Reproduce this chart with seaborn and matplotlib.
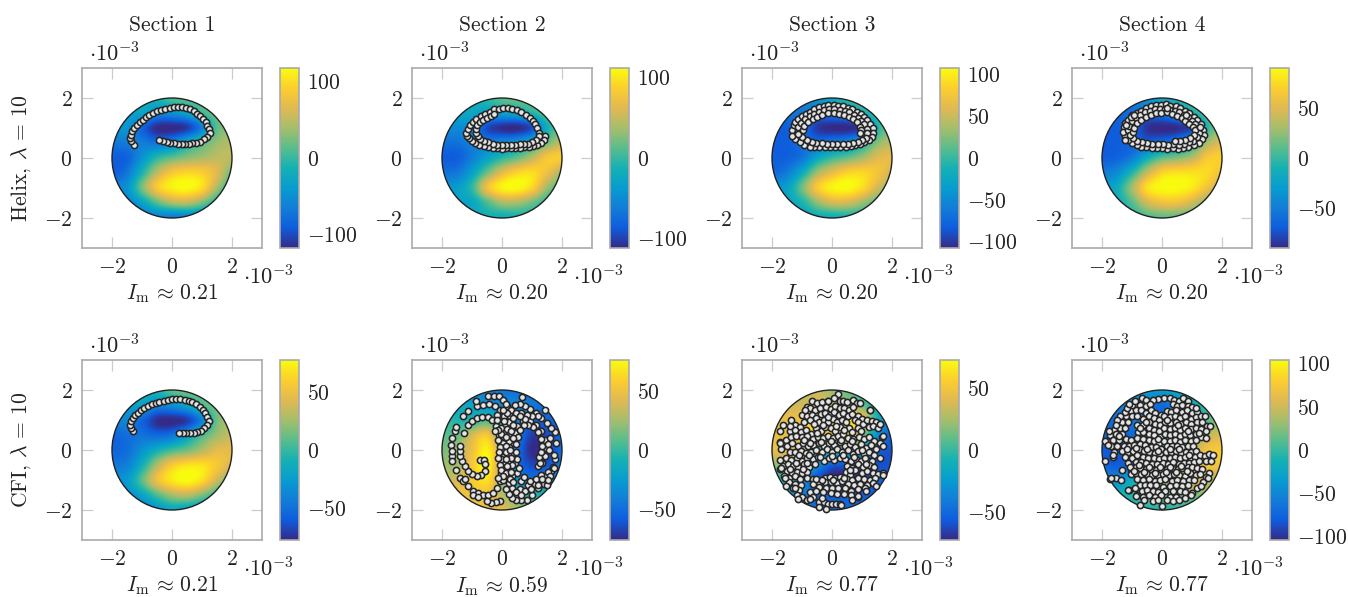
import numpy as np
import pandas as pd
import seaborn as sns
from matplotlib import pyplot as plt
from matplotlib.patches import Circle

sections = ["Section 1", "Section 2", "Section 3", "Section 4"]
rows = [r"Helix, $\lambda\,=\,10$", r"CFI, $\lambda\,=\,10$"]
im_labels = ["0.21", "0.20", "0.20", "0.20", "0.21", "0.59", "0.77", "0.77"]
cbar_limits = [118, 112, 108, 90, 77, 76, 73, 104]
cbar_ticks = [
    [-100, 0, 100],
    [-100, 0, 100],
    [-100, -50, 0, 50, 100],
    [-50, 0, 50],
    [-50, 0, 50],
    [-50, 0, 50],
    [-50, 0, 50],
    [-100, -50, 0, 50, 100],
]
parula = ["#352a87", "#0f5cdd", "#127dd8", "#079ccf", "#15b1b4",
          "#59bd8c", "#a5be6b", "#e1b952", "#fcce2e", "#f9fb0e"]

# field values read at x, y = -2, -1.5 ... 2 (top row is y = 2)
field_1 = [
    [-30, -30, -20, -10, 12, 15, 10, 0, -10],
    [-40, -35, -30, -50, -45, -25, 5, 20, 15],
    [-50, -45, -85, -116, -118, -108, -60, 15, 30],
    [-70, -65, -65, -75, -60, -20, 10, 35, 45],
    [-90, -85, -45, -5, 15, 30, 40, 50, 50],
    [-90, -70, -10, 50, 85, 95, 90, 65, 20],
    [-60, -45, 25, 88, 112, 118, 100, 40, -10],
    [-60, -60, -30, 15, 45, 50, 25, -15, -40],
    [-70, -70, -70, -65, -70, -65, -60, -60, -60],
]
field_2 = [
    [-20, -20, -15, 0, 15, 20, 15, 5, -5],
    [-30, -25, -25, -35, -25, -20, -5, 15, 20],
    [-50, -50, -55, -95, -110, -112, -90, -15, 20],
    [-70, -70, -60, -60, -50, -40, -15, 20, 50],
    [-85, -85, -60, -30, -5, 15, 45, 80, 85],
    [-70, -65, -30, 20, 65, 90, 95, 72, 40],
    [-40, -35, 0, 75, 108, 112, 90, 35, 0],
    [-30, -30, -25, 10, 40, 40, 20, -5, -15],
    [-20, -20, -20, -15, -20, -15, -10, -10, -10],
]
field_3 = [
    [-60, -60, -50, -40, -20, 0, 10, 0, -10],
    [-68, -68, -65, -65, -55, -40, -15, 5, 15],
    [-80, -80, -70, -100, -108, -108, -92, -10, 20],
    [-82, -82, -70, -70, -60, -50, -20, 25, 45],
    [-82, -80, -65, -25, 0, 15, 35, 60, 65],
    [-75, -60, -20, 35, 65, 85, 88, 75, 55],
    [-40, -30, 20, 80, 104, 108, 92, 55, 25],
    [-30, -25, -10, 30, 55, 55, 35, 10, -5],
    [-30, -30, -30, -20, -20, -15, -15, -15, -15],
]
field_4 = [
    [-50, -50, -45, -35, -15, -5, 0, -5, -5],
    [-62, -62, -60, -58, -50, -30, -10, 10, 15],
    [-68, -68, -62, -86, -90, -88, -75, -5, 25],
    [-68, -68, -65, -65, -58, -45, -15, 30, 50],
    [-68, -65, -50, -15, 10, 20, 35, 65, 70],
    [-50, -40, -5, 40, 72, 78, 78, 75, 60],
    [-30, -15, 30, 78, 90, 90, 82, 60, 35],
    [-20, -15, 10, 45, 60, 60, 45, 20, 5],
    [-25, -20, -10, 5, 10, 10, 5, -5, -5],
]
field_5 = [
    [-10, -10, -10, -5, 10, 15, 10, 5, 0],
    [-25, -25, -22, -38, -32, -18, 5, 15, 15],
    [-40, -38, -55, -75, -77, -70, -38, 15, 25],
    [-55, -50, -48, -52, -46, -22, 5, 25, 35],
    [-55, -50, -30, -10, 5, 15, 30, 45, 45],
    [-45, -40, -10, 30, 58, 68, 68, 55, 40],
    [-30, -25, 10, 50, 70, 77, 65, 35, 10],
    [-35, -35, -20, 5, 25, 30, 15, -5, -15],
    [-45, -45, -45, -30, -20, -25, -30, -30, -30],
]
field_6 = [
    [-35, -35, -35, -40, -45, -50, -50, -45, -40],
    [-20, -15, -20, -30, -35, -35, -45, -50, -50],
    [0, -5, -5, 5, -20, -40, -55, -55, -50],
    [10, 10, 40, 55, 0, -40, -70, -65, -50],
    [15, 25, 50, 72, 20, -45, -76, -70, -50],
    [25, 25, 55, 76, 15, -45, -65, -60, -40],
    [35, 40, 55, 65, 20, -25, -45, -30, -25],
    [50, 50, 50, 50, 30, 10, -5, -5, -10],
    [50, 50, 50, 50, 45, 25, 10, 5, 0],
]
field_7 = [
    [30, 30, 30, 35, 20, 10, 0, -10, -10],
    [40, 35, 35, 40, 35, 25, 10, -15, -30],
    [45, 45, 50, 68, 55, 65, 50, -10, -45],
    [45, 45, 50, 60, 50, 55, 20, -30, -55],
    [45, 45, 30, 10, 5, 0, -10, -50, -60],
    [20, 20, 0, -30, -55, -55, -60, -60, -60],
    [-5, -5, -25, -60, -73, -73, -68, -55, -55],
    [-25, -25, -40, -50, -55, -55, -55, -55, -55],
    [-40, -40, -45, -50, -50, -50, -50, -50, -50],
]
field_8 = [
    [-40, -40, -40, -35, -30, -25, -15, -10, -5],
    [-60, -55, -50, -55, -70, -40, -20, 0, 5],
    [-70, -70, -60, -70, -65, -60, -30, 10, 20],
    [-70, -75, -70, -55, -50, -20, 0, 40, 55],
    [-80, -80, -70, -40, -10, 10, 40, 70, 75],
    [-75, -80, -65, -20, 10, 40, 75, 75, 70],
    [-45, -45, -20, 5, 30, 50, 70, 50, 30],
    [-20, -15, -5, 10, 15, 15, 20, 25, 20],
    [-15, -15, -10, -5, -5, 0, 5, 10, 10],
]
fields = [field_1, field_2, field_3, field_4, field_5, field_6, field_7, field_8]

# particle positions, in hundredths of the axis unit
points_1 = [
    (-128, 44), (-136, 56), (-139, 67), (-138, 78), (-133, 90), (-126, 100), (-117, 110), (-108, 119),
    (-98, 128), (-88, 136), (-76, 143), (-64, 150), (-50, 156), (-36, 161), (-22, 165), (-8, 168),
    (6, 170), (20, 170), (34, 169), (47, 167), (60, 162), (72, 156), (84, 148), (94, 140), (103, 130),
    (113, 119), (118, 108), (122, 96), (125, 84), (116, 70), (105, 62), (93, 55), (80, 51), (68, 49),
    (56, 48), (44, 47), (32, 47), (20, 48), (8, 49), (-6, 51), (-18, 53), (-30, 56), (-43, 59),
]
points_2 = [
    (142, 74), (140, 60), (130, 50), (118, 44), (105, 40), (90, 38), (75, 36), (60, 35), (45, 34), (30, 33),
    (15, 32), (0, 31), (-15, 32), (-30, 34), (-45, 36), (-60, 39), (-75, 44), (-90, 50), (-100, 58), (-110, 66),
    (-118, 75), (-120, 85), (-115, 98), (-105, 110), (-95, 120), (-85, 130), (-70, 140), (-55, 148), (-40, 155),
    (-25, 162), (-10, 165), (5, 167), (20, 166), (35, 165), (50, 160), (65, 155), (80, 145), (92, 135), (102, 125),
    (110, 112), (118, 100), (122, 85), (122, 72), (112, 60), (100, 52), (88, 48), (75, 46), (60, 46), (45, 45),
    (30, 43), (15, 43), (0, 43), (-15, 44), (-30, 47), (-45, 52), (-60, 57), (-72, 65), (-80, 75), (-88, 85),
    (-88, 98), (-82, 110), (-72, 120), (-62, 128), (-50, 135), (-38, 140), (-28, 147),
]
points_3 = [
    (-132, 95), (-128, 110), (-122, 120), (-112, 130), (-100, 140), (-88, 148), (-75, 155), (-60, 164), (-45, 170),
    (-28, 175), (-12, 178), (5, 178), (20, 175), (36, 172), (52, 168), (68, 162), (82, 155), (95, 147), (108, 138),
    (118, 128), (128, 115), (135, 100), (137, 85), (132, 70), (122, 60), (108, 52), (92, 46), (78, 42), (62, 40),
    (45, 37), (28, 37), (10, 36), (-8, 38), (-25, 38), (-42, 37), (-60, 37), (-75, 38), (-92, 45), (-108, 55),
    (-122, 65), (-132, 75), (-115, 90), (-112, 105), (-103, 118), (-90, 130), (-75, 140), (-60, 148), (-45, 155),
    (-28, 160), (-10, 162), (8, 163), (25, 160), (42, 157), (58, 152), (72, 145), (86, 135), (98, 125), (108, 112),
    (116, 98), (118, 82), (112, 68), (100, 60), (85, 55), (70, 50), (52, 48), (35, 47), (18, 46), (0, 47), (-18, 48),
    (-35, 50), (-52, 50), (-68, 54), (-85, 60), (-100, 70), (-112, 80), (-98, 92), (-92, 108), (-80, 120), (-65, 130),
    (-50, 138), (-32, 145), (-15, 150), (5, 150), (22, 147), (40, 145), (55, 138), (70, 130), (82, 120), (92, 105),
    (98, 92), (92, 85),
]
points_4 = [
    (-128, 102), (-122, 118), (-112, 128), (-100, 142), (-85, 150), (-70, 158), (-55, 168), (-38, 172), (-20, 178),
    (-5, 176), (12, 180), (28, 174), (45, 172), (60, 168), (75, 158), (90, 150), (105, 138), (118, 128), (130, 112),
    (138, 95), (140, 78), (134, 62), (122, 50), (106, 42), (88, 38), (70, 33), (52, 30), (35, 32), (18, 30), (0, 33),
    (-18, 35), (-35, 33), (-52, 36), (-70, 38), (-85, 44), (-100, 50), (-115, 60), (-124, 72), (-130, 88), (-115, 92),
    (-110, 108), (-100, 122), (-86, 134), (-72, 142), (-56, 152), (-40, 158), (-24, 162), (-8, 165), (10, 165), (26, 160),
    (42, 158), (58, 152), (74, 144), (88, 136), (100, 124), (110, 112), (120, 98), (124, 82), (118, 70), (104, 58),
    (90, 52), (72, 47), (55, 44), (38, 46), (20, 44), (2, 47), (-15, 48), (-32, 47), (-50, 50), (-66, 52), (-82, 58),
    (-96, 66), (-108, 76), (-98, 86), (-92, 100), (-84, 116), (-70, 128), (-54, 137), (-38, 145), (-20, 150), (-2, 150),
    (18, 152), (34, 148), (50, 140), (66, 132), (78, 124), (90, 114), (102, 104), (110, 92), (108, 78), (94, 68), (78, 60),
    (60, 58), (42, 58), (-120, 110), (-105, 136), (-92, 142), (15, 168), (80, 142), (125, 105), (-125, 60),
]
points_5 = [
    (-130, 62), (-138, 74), (-140, 85), (-136, 97), (-130, 107), (-122, 116), (-112, 124), (-102, 132), (-92, 140),
    (-80, 146), (-68, 152), (-55, 157), (-42, 161), (-28, 165), (-14, 167), (0, 169), (14, 170), (28, 170), (42, 168),
    (55, 165), (68, 160), (80, 152), (92, 143), (102, 133), (111, 122), (118, 110), (122, 98), (118, 84), (108, 72),
    (96, 64), (84, 59), (72, 58), (60, 58), (48, 57), (36, 57), (24, 58),
]
points_6 = [
    (-74, -32), (-61, -32), (-56, -46), (-58, -69), (-69, -82), (-83, -88), (-99, -80), (-113, -71), (-124, -54),
    (-133, -38), (-139, -21), (-141, -4), (-141, 14), (-167, -21), (-166, -38), (-154, -68), (-139, -93), (-130, -104),
    (-113, -121), (-97, -138), (-80, -143), (-63, -149), (-47, -149), (-30, -143), (-17, -127), (-8, -104), (-2, -77),
    (-169, 16), (-166, 40), (-158, 62), (-152, 77), (-128, 57), (-113, 82), (-99, 98), (-83, 107), (-66, 110), (-47, 110),
    (-32, 101), (-21, 81), (-11, 51), (-6, 23), (-130, 112), (-113, 129), (-83, 146), (-63, 151), (-43, 154), (-24, 146),
    (-8, 134), (6, 114), (-86, 164), (-47, 179), (-27, 181), (-10, 179), (3, 168), (17, 146), (120, -54), (134, -43),
    (142, -21), (148, 7), (142, 34), (131, 62), (114, 84), (92, 98), (70, 98), (50, 81), (42, 57), (37, 23), (37, -10),
    (42, -43), (50, -77), (64, -104), (87, -118), (109, -112), (126, -99), (148, -88), (164, -71), (127, -42), (122, -24),
    (130, -8), (135, 14), (130, 38), (120, 60), (104, 76), (88, 84), (72, 84), (60, 68), (52, 45), (48, 20), (47, -8),
    (50, -30), (57, -60), (72, -90), (92, -102), (112, -96), (130, -82), (152, -72), (170, -55), (178, -30), (172, -18),
    (180, 22), (178, 60), (165, 75), (150, 90), (130, 108), (112, 122), (95, 138), (78, 146), (60, 155), (42, 150),
    (30, 132), (28, 112), (32, 92), (66, 178), (142, 132), (120, 112), (100, 112), (82, 116), (62, 124), (46, 124),
    (160, 40), (152, 20), (156, 0), (174, -60), (160, -85), (140, -112), (120, -128), (100, -150), (82, -165), (65, -168),
    (48, -168), (32, -160), (-5, -170), (-20, -172), (-35, -175), (-50, -170), (-95, -150), (-80, -155), (25, -145),
    (35, -125), (22, -110), (12, -130), (5, -100), (20, -85), (10, -70), (25, -60), (8, -45), (22, -35), (5, -22), (20, -12),
    (8, 0), (22, 10), (5, 22), (22, 30), (8, 42), (25, 52), (7, 62), (25, 74), (9, 85), (22, 95), (6, 98), (18, 125),
    (-6, 10), (-10, -8), (-2, -30), (-8, -50), (-4, -65), (-12, 35), (-2, 75), (5, 135), (-15, 118), (37, 108), (35, 72),
    (36, 40), (30, -25), (32, -50), (33, -85), (60, -130), (78, -135), (98, -130), (150, -118), (-122, -95), (-168, -4),
    (-3, 55), (14, 14), (15, -5), (14, -30), (16, -52), (15, -75), (2, -88), (28, -95), (-14, 68), (15, 45), (17, 70),
    (30, 62), (28, 0), (-14, -28), (-12, -92), (-24, 62), (-18, 100), (30, -72), (38, 85), (12, 155), (78, 105), (60, 112),
    (38, -108), (120, -115), (135, -95), (155, -100), (48, -140), (62, -150),
]
points_7 = [
    (20, 187), (-68, 162), (-50, 158), (-32, 160), (-12, 165), (5, 172), (25, 163), (38, 162), (50, 160), (70, 168), (82, 158),
    (-85, 145), (-72, 140), (-58, 132), (-40, 140), (-20, 145), (-5, 137), (10, 148), (25, 140), (40, 140), (58, 135), (70, 145), (125, 134),
    (-100, 118), (-82, 112), (-68, 118), (-55, 108), (-38, 120), (-22, 125), (-8, 118), (8, 128), (22, 118), (38, 122), (52, 112), (68, 120), (85, 115), (100, 105),
    (-125, 85), (-108, 78), (-92, 95), (-75, 100), (-45, 95), (-28, 100), (-12, 95), (2, 105), (18, 95), (33, 100), (48, 95), (75, 100), (88, 92), (102, 88), (118, 100), (132, 98), (145, 95), (160, 88),
    (-140, 62), (-122, 68), (-105, 60), (-88, 68), (-70, 55), (-55, 72), (-38, 62), (-22, 78), (-5, 72), (10, 62), (25, 78), (55, 72), (68, 60), (85, 72), (98, 62), (122, 78), (138, 80), (152, 72), (165, 45),
    (-175, 28), (-155, 35), (-138, 42), (-120, 48), (-100, 42), (-82, 48), (-65, 36), (-48, 44), (-30, 40), (-12, 48), (3, 40), (20, 48), (38, 52), (52, 40), (70, 38), (90, 45), (105, 36), (122, 45), (140, 30), (160, 25),
    (-170, 2), (-150, 14), (-132, 22), (-115, 12), (-98, 22), (-80, 14), (-62, 16), (-45, 22), (-28, 14), (-10, 22), (8, 18), (26, 26), (42, 14), (60, 20), (78, 10), (96, 20), (112, 8), (130, 16), (148, 4), (170, 12),
    (-140, -5), (-122, -8), (-104, -2), (-88, -10), (-70, -5), (-52, 0), (-35, -8), (-18, 2), (0, -8), (18, 4), (34, -6), (52, 0), (70, -12), (88, -4), (105, -12), (122, -8), (140, -18), (160, -25),
    (-175, -32), (-155, -25), (-136, -32), (-118, -28), (-100, -35), (-82, -26), (-64, -30), (-46, -24), (-28, -36), (-10, -28), (8, -32), (26, -26), (44, -30), (62, -38), (80, -30), (98, -35), (116, -32), (134, -38),
    (-165, -52), (-148, -45), (-130, -52), (-112, -55), (-94, -48), (-76, -56), (-58, -46), (50, -52), (68, -60), (86, -48), (104, -58), (122, -50), (140, -55),
    (-175, -62), (-150, -70), (-135, -75), (-118, -72), (-100, -78), (-82, -72), (45, -72), (60, -82), (78, -68), (100, -78), (118, -70), (135, -78), (152, -80), (170, -78),
    (-160, -88), (-142, -92), (-125, -88), (-108, -95), (-85, -92), (-25, -92), (-8, -90), (10, -92), (28, -90), (50, -95), (68, -100), (85, -92), (108, -95), (125, -100), (142, -92),
    (-142, -108), (-122, -112), (-105, -118), (-62, -95), (-45, -105), (-25, -105), (-5, -108), (15, -110), (32, -102), (52, -112), (72, -118), (92, -112), (115, -115), (135, -110),
    (-130, -125), (-110, -132), (-62, -112), (-42, -122), (-20, -125), (0, -125), (20, -128), (42, -128), (62, -135), (88, -130), (110, -125),
    (-118, -150), (-100, -155), (-75, -140), (-55, -138), (-30, -140), (-5, -142), (15, -145), (40, -148), (62, -150), (85, -155), (-85, -165), (-62, -158),
    (-42, -172), (-28, -172), (-15, -180), (0, -180), (12, -180), (25, -180), (-45, -190), (-20, -195), (-35, -160), (65, -168), (-155, -120),
    (-174, 62), (-163, 84), (-141, 79), (-174, 23), (-169, -60), (-158, -93), (-124, -127), (-113, -163), (-74, -163),
    (31, -182), (87, -154), (114, -138), (148, -121), (170, -82), (170, 46), (159, 88), (126, 134), (92, 157), (-13, 164),
    (-91, 134), (-136, 101), (-60, 88), (-15, 110), (-30, 85), (12, 80), (40, 68), (-50, 58), (-92, 35), (-72, 25),
    (-38, 28), (-2, 30), (30, 35), (65, 30), (100, 0), (-110, -15), (-78, -18), (-40, -22), (0, -20), (35, -18), (72, -22),
    (110, -25), (-120, -42), (-85, -42), (-140, -62), (-98, -62), (60, -68), (112, -48), (-55, -95), (-35, -100), (2, -100), (40, -92),
]
points_8 = [
    (5, 175), (-15, 170), (-68, 172), (-52, 168), (-30, 168), (25, 172), (40, 168), (55, 165), (70, 173), (85, 165), (-85, 155), (-72, 150), (-55, 148),
    (-40, 152), (35, 155), (50, 148), (68, 150), (85, 148), (100, 145), (-105, 130), (-88, 135), (-70, 132), (-55, 125), (-38, 132), (-25, 122),
    (-5, 118), (18, 130), (30, 128), (48, 132), (65, 128), (82, 132), (100, 125), (115, 128), (-120, 112), (-100, 115), (-82, 112), (-62, 105), (-45, 112), (-28, 108),
    (-10, 100), (8, 112), (25, 110), (42, 115), (60, 108), (78, 112), (95, 105), (112, 110), (130, 112), (-135, 92), (-115, 95), (-42, 92), (-25, 88),
    (-8, 82), (10, 92), (28, 90), (45, 95), (62, 88), (80, 95), (98, 88), (115, 92), (132, 95), (150, 80), (-160, 68), (-140, 72), (-122, 75), (-82, 82),
    (-62, 82), (-45, 72), (-28, 68), (-10, 62), (8, 72), (25, 70), (42, 75), (60, 68), (78, 75), (95, 70), (112, 72), (130, 70), (145, 65), (-172, 50), (-152, 52),
    (-132, 55), (-80, 60), (-62, 60), (-44, 52), (-26, 50), (-8, 42), (10, 52), (28, 50), (44, 55), (60, 48), (78, 55), (94, 50), (112, 52), (130, 45),
    (-182, 30), (-162, 32), (-142, 35), (-120, 38), (-102, 32), (-82, 40), (-62, 38), (-44, 32), (-26, 30), (-10, 22), (8, 30), (26, 30), (42, 35), (60, 28), (76, 32), (98, 30), (112, 32),
    (-170, 12), (-150, 15), (-128, 12), (-110, 14), (-92, 18), (-74, 20), (-56, 16), (-38, 10), (-20, 10), (-2, 4), (16, 12), (34, 12), (50, 15), (68, 10), (86, 12), (102, 12),
    (-160, -5), (-135, -4), (-115, -8), (-96, -2), (-78, 2), (-60, -2), (-42, -8), (-24, -10), (-6, -14), (12, -6), (30, -8), (46, -4), (62, -10), (80, -8), (96, -5), (112, -4),
    (-165, -22), (-125, -22), (-100, -25), (-82, -18), (-64, -22), (-46, -26), (-28, -28), (-10, -30), (8, -26), (26, -26), (42, -22), (60, -28), (78, -24), (95, -25), (110, -22), (128, -15), (142, -20), (158, -12), (145, -36), (170, -15),
    (-115, -42), (-88, -40), (-70, -40), (-52, -44), (-34, -46), (-16, -48), (2, -44), (20, -46), (38, -40), (56, -46), (74, -42), (90, -42), (106, -40), (122, -36),
    (-105, -62), (-88, -58), (-72, -60), (-55, -62), (-38, -64), (-20, -66), (-2, -62), (16, -64), (34, -60), (52, -64), (68, -60), (88, -58), (100, -55), (118, -60), (132, -62), (155, -75),
    (-135, -65), (-105, -80), (-88, -78), (-70, -80), (-50, -80), (-32, -82), (-14, -84), (4, -80), (22, -82), (40, -80), (58, -82), (76, -85), (94, -78), (112, -82), (128, -80), (148, -90),
    (-172, -95), (-155, -92), (-85, -98), (-65, -100), (-45, -98), (-25, -102), (-8, -100), (10, -98), (32, -102), (50, -100), (70, -102), (90, -100), (108, -100), (135, -105),
    (-75, -118), (-58, -118), (-40, -115), (-20, -118), (2, -122), (25, -120), (45, -118), (65, -120), (85, -118), (115, -125), (-110, -132), (-90, -128), (-68, -138), (-50, -132),
    (-30, -135), (-12, -140), (10, -138), (38, -138), (60, -138), (78, -140), (100, -142), (-85, -150), (-65, -155), (-42, -150), (-22, -155), (-5, -150), (28, -155), (48, -155),
    (-75, -182), (0, -185), (-30, -170), (-15, -165), (-60, -168), (15, -165), (38, -170), (58, -168),
    (-125, 128), (-140, 112), (-150, 100), (-118, 140), (-155, 85), (-100, 150), (-90, 165), (-110, 155), (-191, 29), (-180, 18),
    (-163, -16), (-191, -38), (-169, -93), (-136, -99), (-113, -132), (-86, -154), (162, -38), (153, -93), (131, -121),
    (98, -149), (76, -160), (159, 79), (148, 40), (142, 114), (114, 140), (-178, 62), (-145, 48), (-72, 72), (-52, 95),
    (-15, 38), (18, 100), (52, 82), (88, 62), (122, 58), (-118, 5), (-88, 8), (-50, 5), (-15, -4), (25, 2), (55, 4), (90, -15),
    (-108, -55), (-78, -50), (-44, -55), (-8, -55), (26, -55), (62, -52), (-95, -70), (-60, -72), (-24, -75), (12, -72), (48, -72), (84, -70),
]
all_points = [points_1, points_2, points_3, points_4, points_5, points_6, points_7, points_8]

sns.set_theme(style="white")
plt.rcParams["font.family"] = "cmr10"
plt.rcParams["mathtext.fontset"] = "cm"
plt.rcParams["axes.unicode_minus"] = False

FONT = 15.5
W, H = 1348, 597
cmap = sns.blend_palette(parula, as_cmap=True)
col_left = [82, 412, 742, 1072]
row_top = [68, 360]


def box(left, top, width, height):
    return [left / W, 1 - (top + height) / H, width / W, height / H]


def num(v):
    return f"${v}$"


fig = plt.figure(figsize=(W / 100, H / 100), dpi=100)

for i in range(8):
    r, c = i // 4, i % 4
    left, top = col_left[c], row_top[r]
    ax = fig.add_axes(box(left, top, 180, 180))

    lim = cbar_limits[i]
    im = ax.imshow(fields[i], cmap=cmap, vmin=-lim, vmax=lim, extent=(-2.25, 2.25, -2.25, 2.25),
                   interpolation="catrom", zorder=2)
    edge = Circle((0, 0), 2, fc="none", ec="#222222", lw=1.0, zorder=3)
    ax.add_patch(edge)
    im.set_clip_path(Circle((0, 0), 2, transform=ax.transData))

    pts = pd.DataFrame(all_points[i], columns=["x", "y"]) / 100
    sns.scatterplot(data=pts, x="x", y="y", s=20, color="#e4e4e4", edgecolor="#262626",
                    linewidth=1.15, ax=ax, legend=False, zorder=4)

    ax.set_xlim(-3, 3)
    ax.set_ylim(-3, 3)
    ax.set_aspect("equal")
    ax.set_xlabel("")
    ax.set_ylabel("")
    ax.set_xticks([-2, 0, 2], [num(v) for v in [-2, 0, 2]])
    ax.set_yticks([-2, 0, 2], [num(v) for v in [-2, 0, 2]])
    ax.tick_params(direction="in", length=8, width=0.9, color="#cccccc", top=True, right=True,
                   bottom=True, left=True, labelsize=FONT, labelcolor="#222222", pad=7)
    for s in ax.spines.values():
        s.set_color("#aaaaaa")
        s.set_linewidth(1.2)
        s.set_visible(True)

    cax = fig.add_axes(box(left + 198, top, 19, 180))
    cb = fig.colorbar(im, cax=cax)
    cb.set_ticks(cbar_ticks[i], labels=[num(v) for v in cbar_ticks[i]])
    cax.tick_params(direction="in", length=5, width=0.8, color="#777777", left=True, right=True,
                    labelsize=FONT, labelcolor="#222222", pad=6)
    cb.outline.set_edgecolor("#aaaaaa")
    cb.outline.set_linewidth(1.2)

    cx = left + 90
    fig.text((left + 33) / W, 1 - (top - 15) / H, r"$\cdot 10^{-3}$", ha="center", va="center",
             fontsize=FONT + 0.7, color="#222222")
    fig.text((left + 187) / W, 1 - (top + 208) / H, r"$\cdot 10^{-3}$", ha="center", va="center",
             fontsize=FONT + 0.7, color="#222222")
    fig.text(cx / W, 1 - (top + 226) / H, rf"$I_{{\mathrm{{m}}}} \,\approx\, {im_labels[i]}$", ha="center",
             va="center", fontsize=FONT, color="#222222")
    if r == 0:
        fig.text(cx / W, 1 - 25 / H, sections[c], ha="center", va="center", fontsize=FONT, color="#222222")
    if c == 0:
        fig.text(21 / W, 1 - (top + 90) / H, rows[r], ha="center", va="center", rotation=90,
                 fontsize=FONT, color="#222222")

fig.savefig("out.png", dpi=100)
